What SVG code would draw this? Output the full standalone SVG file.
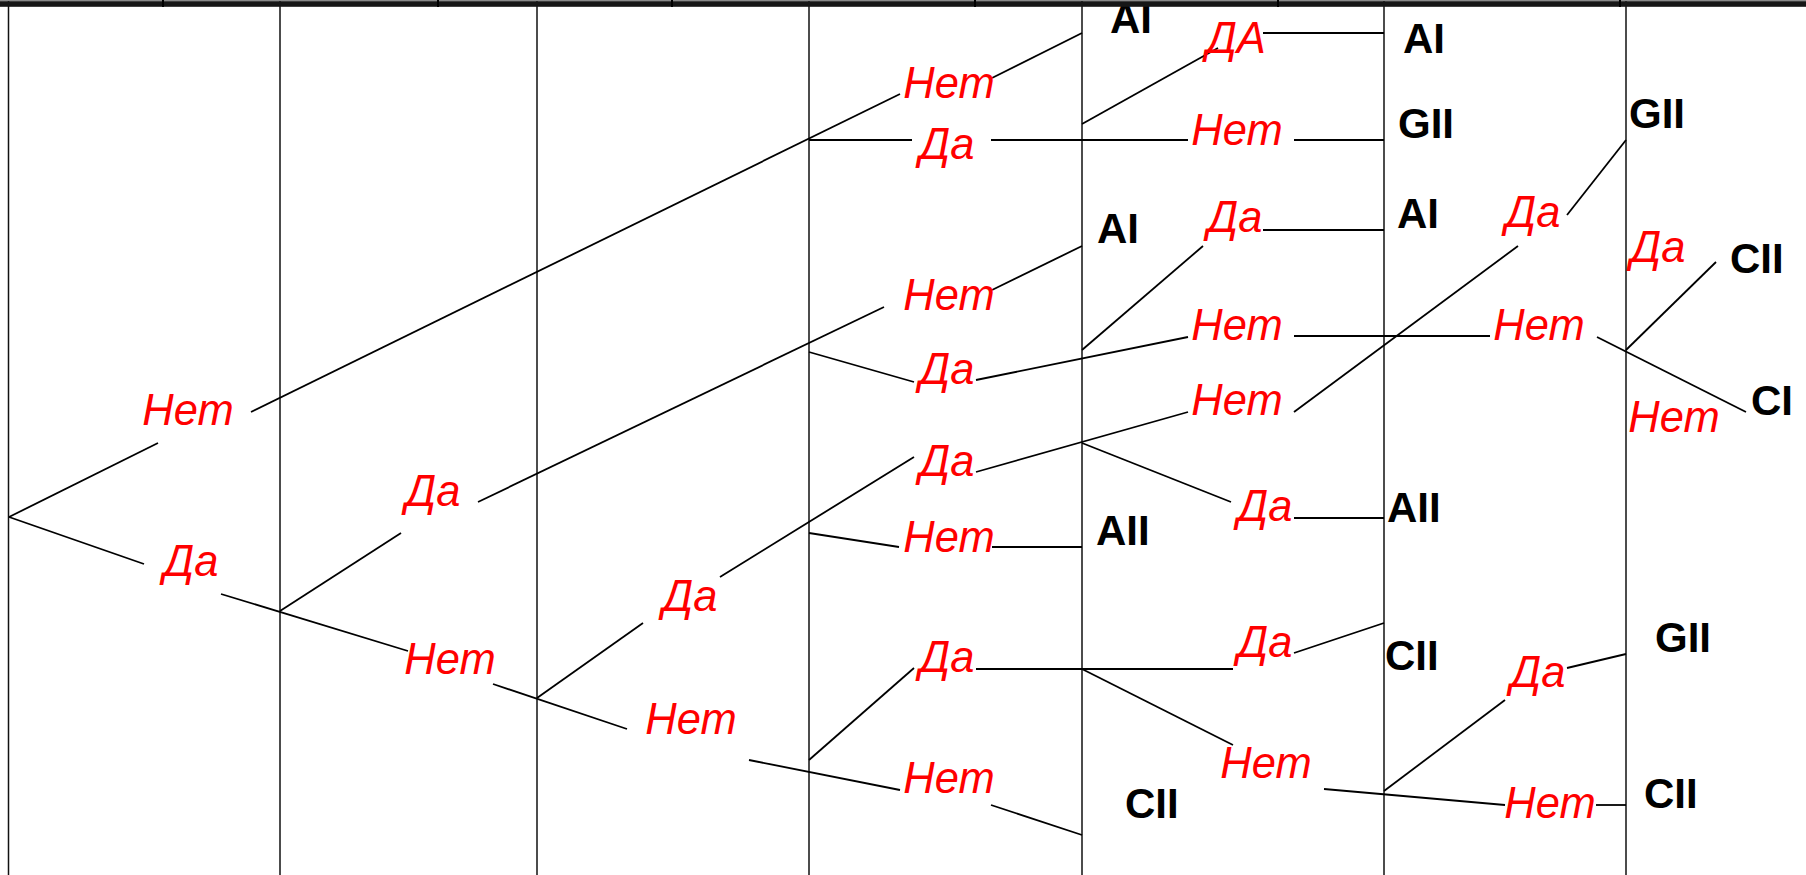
<svg xmlns="http://www.w3.org/2000/svg" width="1806" height="875" viewBox="0 0 1806 875">
<style>
.col{stroke:#111;stroke-width:1.5;fill:none}
.c line{stroke:#000;stroke-width:1.8;fill:none;stroke-linecap:butt}
.r{font-family:"Liberation Sans",Arial,sans-serif;font-style:italic;font-size:43.5px;fill:#ff0000;text-anchor:middle}
.b{font-family:"Liberation Sans",Arial,sans-serif;font-weight:bold;font-size:42px;fill:#000}
</style>
<rect width="1806" height="875" fill="#fff"/>
<g id="columns" class="col">
<line x1="8.5" y1="0" x2="8.5" y2="875"/>
<line x1="280" y1="0" x2="280" y2="875"/>
<line x1="537" y1="0" x2="537" y2="875"/>
<line x1="809" y1="0" x2="809" y2="875"/>
<line x1="1082" y1="0" x2="1082" y2="875"/>
<line x1="1384" y1="0" x2="1384" y2="875"/>
<line x1="1626" y1="0" x2="1626" y2="875"/>
</g>
<g id="connectors" class="c">
<line x1="9" y1="517" x2="158" y2="443"/>
<line x1="251" y1="412" x2="900" y2="94"/>
<line x1="992" y1="78" x2="1082" y2="33"/>
<line x1="809" y1="140" x2="912" y2="140"/>
<line x1="991" y1="140" x2="1188" y2="140"/>
<line x1="1294" y1="140" x2="1384" y2="140"/>
<line x1="1082" y1="124" x2="1218" y2="48"/>
<line x1="1263" y1="33" x2="1384" y2="33"/>
<line x1="1626" y1="140" x2="1567" y2="215"/>
<line x1="1518" y1="246" x2="1294" y2="412"/>
<line x1="478" y1="502" x2="884" y2="307"/>
<line x1="9" y1="517" x2="144" y2="564"/>
<line x1="221" y1="594" x2="408" y2="651"/>
<line x1="280" y1="611" x2="401" y2="533"/>
<line x1="493" y1="684" x2="627" y2="729"/>
<line x1="537" y1="698" x2="643" y2="623"/>
<line x1="720" y1="577" x2="914" y2="457"/>
<line x1="809" y1="533" x2="899" y2="547"/>
<line x1="992" y1="547" x2="1082" y2="547"/>
<line x1="749" y1="760" x2="900" y2="790"/>
<line x1="809" y1="760" x2="914" y2="668"/>
<line x1="991" y1="805" x2="1082" y2="835"/>
<line x1="976" y1="669" x2="1233" y2="669"/>
<line x1="1082" y1="669" x2="1233" y2="745"/>
<line x1="1294" y1="653" x2="1384" y2="623"/>
<line x1="1324" y1="789" x2="1505" y2="805"/>
<line x1="1596" y1="805" x2="1626" y2="805"/>
<line x1="1384" y1="791" x2="1505" y2="700"/>
<line x1="1567" y1="668" x2="1626" y2="654"/>
<line x1="976" y1="472" x2="1188" y2="412"/>
<line x1="1082" y1="443" x2="1231" y2="502"/>
<line x1="1294" y1="518" x2="1384" y2="518"/>
<line x1="809" y1="352" x2="914" y2="382"/>
<line x1="976" y1="380" x2="1188" y2="337"/>
<line x1="1294" y1="336" x2="1490" y2="336"/>
<line x1="1597" y1="337" x2="1746" y2="412"/>
<line x1="1626" y1="350" x2="1716" y2="262"/>
<line x1="1082" y1="350" x2="1203" y2="246"/>
<line x1="1263" y1="230" x2="1384" y2="230"/>
<line x1="992" y1="290" x2="1082" y2="246"/>
</g>
<g id="n1"><text class="r" x="188" y="425">Нет</text></g>
<g id="n2"><text class="r" x="191" y="576">Да</text></g>
<g id="n3"><text class="r" x="433" y="506">Да</text></g>
<g id="n4"><text class="r" x="450" y="674">Нет</text></g>
<g id="n5"><text class="r" x="690" y="611">Да</text></g>
<g id="n6"><text class="r" x="691" y="734">Нет</text></g>
<g id="n7"><text class="r" x="949" y="98">Нет</text></g>
<g id="n8"><text class="r" x="947" y="159">Да</text></g>
<g id="n9"><text class="r" x="949" y="310">Нет</text></g>
<g id="n10"><text class="r" x="947" y="384">Да</text></g>
<g id="n11"><text class="r" x="947" y="476">Да</text></g>
<g id="n12"><text class="r" x="949" y="552">Нет</text></g>
<g id="n13"><text class="r" x="947" y="672">Да</text></g>
<g id="n14"><text class="r" x="949" y="793">Нет</text></g>
<g id="n15"><text class="r" x="1236" y="53">ДА</text></g>
<g id="n16"><text class="r" x="1237" y="145">Нет</text></g>
<g id="n17"><text class="r" x="1235" y="232">Да</text></g>
<g id="n18"><text class="r" x="1237" y="340">Нет</text></g>
<g id="n19"><text class="r" x="1237" y="415">Нет</text></g>
<g id="n20"><text class="r" x="1265" y="521">Да</text></g>
<g id="n21"><text class="r" x="1265" y="657">Да</text></g>
<g id="n22"><text class="r" x="1266" y="778">Нет</text></g>
<g id="n23"><text class="r" x="1533" y="227">Да</text></g>
<g id="n24"><text class="r" x="1539" y="340">Нет</text></g>
<g id="n25"><text class="r" x="1538" y="687">Да</text></g>
<g id="n26"><text class="r" x="1550" y="818">Нет</text></g>
<g id="n27"><text class="r" x="1658" y="262">Да</text></g>
<g id="n28"><text class="r" x="1674" y="432">Нет</text></g>
<g id="o1"><text class="b" x="1110" y="33">AI</text></g>
<g id="o2"><text class="b" x="1403" y="53">AI</text></g>
<g id="o3"><text class="b" x="1398" y="138">GII</text></g>
<g id="o4"><text class="b" x="1629" y="128">GII</text></g>
<g id="o5"><text class="b" x="1097" y="243">AI</text></g>
<g id="o6"><text class="b" x="1397" y="228">AI</text></g>
<g id="o7"><text class="b" x="1730" y="273">CII</text></g>
<g id="o8"><text class="b" x="1751" y="415">CI</text></g>
<g id="o9"><text class="b" x="1096" y="545">AII</text></g>
<g id="o10"><text class="b" x="1387" y="522">AII</text></g>
<g id="o11"><text class="b" x="1385" y="670">CII</text></g>
<g id="o12"><text class="b" x="1655" y="652">GII</text></g>
<g id="o13"><text class="b" x="1125" y="818">CII</text></g>
<g id="o14"><text class="b" x="1644" y="808">CII</text></g>
<g id="topbar">
<rect x="0" y="0" width="1806" height="1.2" fill="#8a8a8a"/>
<rect x="0" y="1.2" width="1806" height="5.6" fill="#161616"/>
<rect x="162" y="0" width="2" height="7" fill="#000"/>
<rect x="437" y="0" width="2" height="7" fill="#000"/>
<rect x="671" y="0" width="2" height="7" fill="#000"/>
<rect x="974" y="0" width="2" height="7" fill="#000"/>
<rect x="1277" y="0" width="2" height="7" fill="#000"/>
<rect x="1619" y="0" width="2" height="7" fill="#000"/>
</g>
</svg>
